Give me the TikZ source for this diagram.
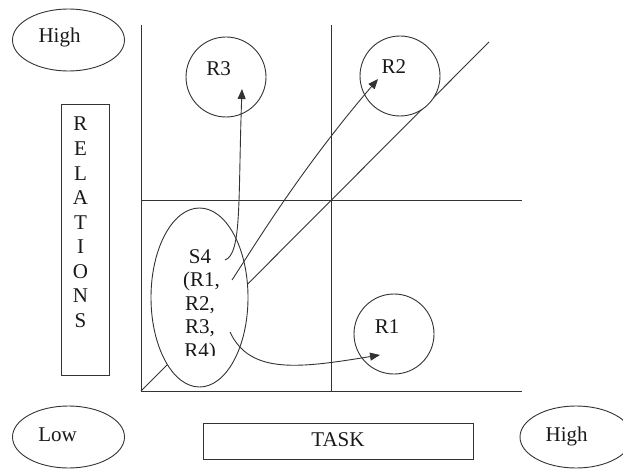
\documentclass[tikz,border=0pt]{standalone}
\usepackage{fontspec}
\setmainfont{Liberation Serif}
\usetikzlibrary{shapes.geometric,arrows.meta}
\begin{document}
\begin{tikzpicture}[x=1pt,y=-1pt,
  ln/.style={draw=black!80,line width=0.9pt},
  txt/.style={inner sep=0pt,anchor=base,font=\fontsize{21}{24}\selectfont,text=black!90},
  oval/.style={ln,ellipse,fill=white,inner sep=0pt,minimum width=#1},
  ring/.style={ln,circle,fill=white,inner sep=0pt,minimum size=80pt},
  arr/.style={ln,-{Triangle[length=10pt,width=8pt]}}]
\useasboundingbox (0,0) rectangle (623,468);
% axes frame
\coordinate (tl) at (141,25);
\coordinate (bl) at (141,391);
\coordinate (br) at (522,391);
\coordinate (tm) at (331,25);
\coordinate (bm) at (331,391);
\coordinate (ml) at (141,200);
\coordinate (mr) at (522,200);
\coordinate (dg) at (489,42);
\draw[ln] (tl) -- (bl) -- (br);
\draw[ln] (tm) -- (bm);
\draw[ln] (ml) -- (mr);
\draw[ln] (bl) -- (dg);
% corner ellipses
\node[oval=112pt,minimum height=62pt] (hiT) at (68.5,40) {};
\node[txt] (hiTt) at (59.5,43) {High};
\node[oval=112pt,minimum height=62pt] (lo) at (68.5,437) {};
\node[txt] (lot) at (57.5,441) {Low};
\node[oval=112pt,minimum height=62pt] (hiB) at (576,437) {};
\node[txt] (hiBt) at (566.7,441) {High};
% axis title boxes
\node[ln,rectangle,inner sep=0pt,minimum width=48pt,minimum height=271pt] (relbox) at (85,239.5) {};
\foreach \l [count=\i from 0] in {R,E,L,A,T,I,O,N,S}
  \node[txt] (rel\i) at (80.5,131+24.5*\i) {\l};
\node[ln,rectangle,inner sep=0pt,minimum width=270pt,minimum height=36pt] (taskbox) at (338,441) {};
\node[txt] (task) at (338,446) {TASK};
% circles
\node[ring] (c3) at (226,77) {};
\node[txt] (r3) at (218.7,76) {R3};
\node[ring] (c2) at (400,76) {};
\node[txt] (r2) at (393.8,74) {R2};
\node[ring] (c1) at (394,334) {};
\node[txt] (r1) at (387,333) {R1};
% S4 ellipse
\node[oval=97pt,minimum height=179pt] (s4) at (199.5,297.5) {};
\node[txt] (s4a) at (200,263) {S4};
\node[txt] (s4b) at (201.5,286) {(R1,};
\node[txt] (s4c) at (200,310) {R2,};
\node[txt] (s4d) at (200,333.5) {R3,};
\begin{scope}
\clip (150,300) rectangle (250,355);
\node[txt] (s4e) at (200,357) {R4)};
\end{scope}
% arrows
\coordinate (a3) at (225,260);
\coordinate (e3) at (242,89);
\coordinate (a2) at (232,280);
\coordinate (e2) at (378,79);
\coordinate (a1) at (230,332);
\coordinate (e1) at (380,355);
\draw[arr] (a3) .. controls (242,254) and (238,200) .. (e3);
\draw[arr] (a2) .. controls (255,245) and (300,170) .. (e2);
\draw[arr] (a1) .. controls (250,375) and (300,368) .. (e1);
\end{tikzpicture}
\end{document}
